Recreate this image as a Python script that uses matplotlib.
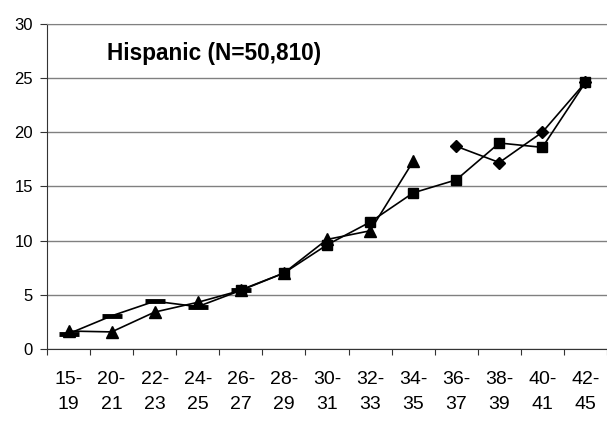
import numpy as np
import matplotlib
matplotlib.use("Agg")
import matplotlib.pyplot as plt

plt.rcParams['font.family'] = ['Liberation Sans', 'DejaVu Sans']

categories = ["15-\n19", "20-\n21", "22-\n23", "24-\n25", "26-\n27", "28-\n29", "30-\n31",
              "32-\n33", "34-\n35", "36-\n37", "38-\n39", "40-\n41", "42-\n45"]
nan = np.nan
dash_series = [1.4, 3.05, 4.4, 3.9, 5.4, nan, nan, nan, nan, nan, nan, nan, nan]
triangle_series = [1.65, 1.57, 3.4, 4.3, 5.4, 7.0, 10.1, 10.9, 17.3, nan, nan, nan, nan]
square_series = [nan, nan, nan, nan, 5.45, 7.0, 9.6, 11.7, 14.4, 15.6, 19.0, 18.6, 24.6]
diamond_series = [nan, nan, nan, nan, nan, nan, nan, nan, nan, 18.7, 17.2, 20.0, 24.6]
yticks = [0, 5, 10, 15, 20, 25, 30]
title = "Hispanic (N=50,810)"

fig = plt.figure(figsize=(6.07, 4.25), dpi=100)
ax = fig.add_axes([0.0774, 0.179, 1.0 - 0.0774, 0.765])
x = np.arange(len(categories))

lw = 1.2
ax.plot(x, dash_series, color='black', lw=lw, marker='_', ms=15, mew=3.5)
ax.plot(x, triangle_series, color='black', lw=lw, marker='^', ms=8)
ax.plot(x, square_series, color='black', lw=lw, marker='s', ms=7.5)
ax.plot(x, diamond_series, color='black', lw=lw, marker='D', ms=6.5)

ax.set_ylim(0, 30)
ax.set_yticks(yticks)
ax.set_xlim(-0.5, 12.4)
ax.set_xticks(x)
ax.set_xticklabels(categories, fontsize=14, linespacing=1.6)
ax.set_xticks(np.arange(-0.5, 13, 1), minor=True)
ax.tick_params(axis='x', which='major', length=0, pad=16)
ax.tick_params(axis='x', which='minor', length=4, direction='out', width=0.8, color='#333333')
ax.tick_params(axis='y', length=5, direction='out', labelsize=12, pad=5, width=0.8, color='#333333')

ax.yaxis.grid(True, color='#808080', lw=1.0)
ax.set_axisbelow(True)
ax.spines['right'].set_visible(False)
ax.spines['top'].set_color('#808080')
ax.spines['left'].set_color('#333333')
ax.spines['bottom'].set_color('#333333')

ax.text(0.107, 0.91, title, transform=ax.transAxes, fontsize=16.3, fontweight='bold',
        ha='left', va='center')

fig.savefig("out.png", dpi=100)
